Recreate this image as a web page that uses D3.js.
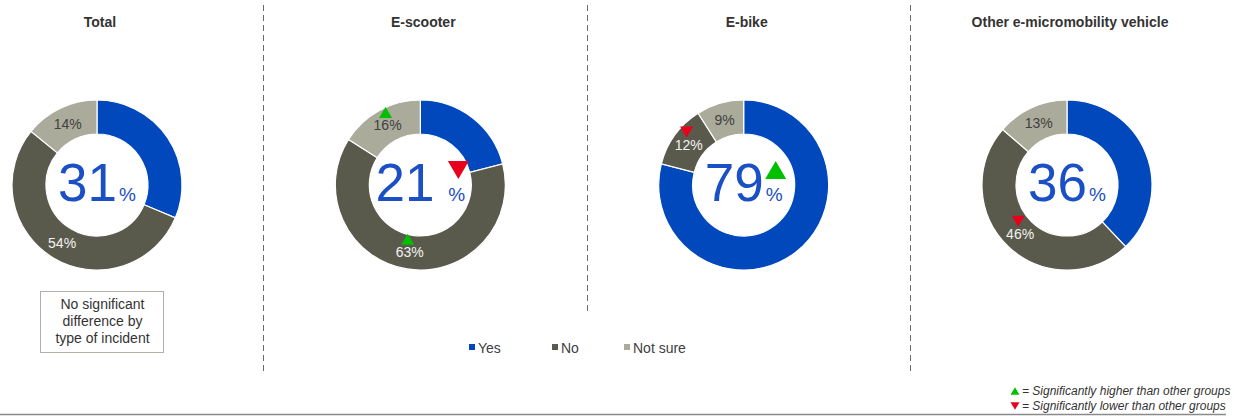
<!DOCTYPE html>
<html>
<head>
<meta charset="utf-8">
<script src="https://cdn.jsdelivr.net/npm/d3@7"></script>
<style>
  html, body { margin: 0; padding: 0; background: #fff; }
  svg { display: block; font-family: "Liberation Sans", Arial, sans-serif; }
</style>
</head>
<body>
<svg id="chart" width="1234" height="416"></svg>
<script>
// Panels and their answer shares (%)
const groups = ["Total", "E-scooter", "E-bike", "Other e-micromobility vehicle"];
const answers = ["Yes", "No", "Not sure"];
const yesValues = [31, 21, 79, 36];
const noValues = [54, 63, 12, 46];
const notSureValues = [14, 16, 9, 13];

// Significance flags per panel: "up", "down" or null, for Yes / No / Not sure
const yesFlags = [null, "down", "up", null];
const noFlags = [null, "up", "down", "down"];
const notSureFlags = [null, "up", null, null];

const boxNote = ["No significant", "difference by", "type of incident"];
const keyNotes = ["= Significantly higher than other groups", "= Significantly lower than other groups"];

const colors = ["#0048BC", "#5A5A4C", "#ABAB9B"];
const labelColors = [null, "#F2F2F2", "#404040"];
const centerBlue = "#1A4FC6";
const upColor = "#00C000";
const downColor = "#E8001C";

const svg = d3.select("#chart");

// Panel centres
const x = d3.scalePoint().domain(groups).range([97, 1067]);
const cy = 185;
const rOuter = 85, rInner = 51;

const pie = d3.pie().sort(null).value(d => d.value).startAngle(0).endAngle(2 * Math.PI);
const arc = d3.arc().innerRadius(rInner).outerRadius(rOuter);
const labelArc = d3.arc().innerRadius(68).outerRadius(68);

function triangle(g, cx, ccy, dir, size) {
  const h = size * 0.85;
  const pts = dir === "up"
    ? [[cx - size / 2, ccy + h / 2], [cx + size / 2, ccy + h / 2], [cx, ccy - h / 2]]
    : [[cx - size / 2, ccy - h / 2], [cx + size / 2, ccy - h / 2], [cx, ccy + h / 2]];
  g.append("path")
    .attr("d", d3.line()(pts) + "Z")
    .attr("fill", dir === "up" ? upColor : downColor);
}

// Dashed panel dividers (the middle one stops above the legend)
const dividers = [
  { x: (x(groups[0]) + x(groups[1])) / 2 + 4.5, y2: 372 },
  { x: (x(groups[1]) + x(groups[2])) / 2 + 4.5, y2: 314 },
  { x: (x(groups[2]) + x(groups[3])) / 2 + 4.5, y2: 372 }
];
svg.selectAll("line.div").data(dividers).join("line")
  .attr("class", "div")
  .attr("x1", d => Math.round(d.x) + 0.5).attr("x2", d => Math.round(d.x) + 0.5)
  .attr("y1", 5).attr("y2", d => d.y2)
  .attr("stroke", "#6a6a6a").attr("stroke-width", 1)
  .attr("stroke-dasharray", "6,4");

groups.forEach((name, i) => {
  const cx = x(name);
  const data = [
    { key: answers[0], value: yesValues[i], flag: yesFlags[i], idx: 0 },
    { key: answers[1], value: noValues[i], flag: noFlags[i], idx: 1 },
    { key: answers[2], value: notSureValues[i], flag: notSureFlags[i], idx: 2 }
  ];
  const g = svg.append("g").attr("transform", `translate(${cx},${cy})`);

  // Title
  svg.append("text")
    .attr("x", cx + 3).attr("y", 27)
    .attr("text-anchor", "middle")
    .attr("font-size", 14).attr("font-weight", "bold")
    .attr("fill", "#333")
    .text(name);

  const arcs = pie(data);
  g.selectAll("path.slice").data(arcs).join("path")
    .attr("class", "slice")
    .attr("d", arc)
    .attr("fill", d => colors[d.data.idx])
    .attr("stroke", "#fff").attr("stroke-width", 1.2);

  // Slice labels for No / Not sure
  arcs.filter(d => d.data.idx > 0).forEach(d => {
    const [lx, ly] = labelArc.centroid(d);
    g.append("text")
      .attr("x", lx).attr("y", ly + 5)
      .attr("text-anchor", "middle")
      .attr("font-size", 14)
      .attr("fill", labelColors[d.data.idx])
      .text(d.data.value + "%");
    if (d.data.flag) triangle(g, lx - 2, ly - 13, d.data.flag, 13);
  });

  // Centre figure for Yes
  const wide = yesFlags[i] === "down";
  const t = g.append("text")
    .attr("y", 16)
    .attr("text-anchor", "middle")
    .attr("fill", centerBlue);
  t.append("tspan").attr("font-size", 53).text(yesValues[i]);
  t.append("tspan").attr("font-size", 19).attr("dx", wide ? 14 : 2).text("%");

  if (yesFlags[i]) {
    const bb = t.node().getBBox();
    triangle(g, bb.x + bb.width - 7, -15, yesFlags[i], 21);
  }
});

// Note box under Total
const bx = 40, by = 291, bw = 123, bh = 61;
svg.append("rect")
  .attr("x", bx + 0.5).attr("y", by + 0.5).attr("width", bw).attr("height", bh)
  .attr("fill", "#fff").attr("stroke", "#b0b0a8").attr("stroke-width", 1);
svg.append("g").selectAll("text").data(boxNote).join("text")
  .attr("x", bx + bw / 2 + 1)
  .attr("y", (d, k) => by + 18 + k * 17)
  .attr("text-anchor", "middle")
  .attr("font-size", 14).attr("fill", "#333")
  .text(d => d);

// Legend
const legendX = d3.scaleOrdinal().domain(answers).range([469, 552, 624]);
const lg = svg.append("g").selectAll("g").data(answers).join("g")
  .attr("transform", d => `translate(${legendX(d)},348)`);
lg.append("rect").attr("x", 0).attr("y", -4).attr("width", 6).attr("height", 6)
  .attr("fill", (d, k) => colors[k]);
lg.append("text").attr("x", 9).attr("y", 5)
  .attr("font-size", 14).attr("fill", "#404040")
  .text(d => d);

// Significance key
const kg = svg.append("g").selectAll("g").data(keyNotes).join("g")
  .attr("transform", (d, k) => `translate(1015,${395 + k * 15})`);
kg.each(function (d, k) {
  triangle(d3.select(this), 0, -4, k === 0 ? "up" : "down", 9);
});
kg.append("text").attr("x", 7).attr("y", 0)
  .attr("font-size", 12).attr("font-style", "italic").attr("fill", "#333")
  .text(d => d);

// Bottom rule
svg.append("line")
  .attr("x1", 0).attr("x2", 1226).attr("y1", 414.5).attr("y2", 414.5)
  .attr("stroke", "#8a8a8a").attr("stroke-width", 1.5);
</script>
</body>
</html>
